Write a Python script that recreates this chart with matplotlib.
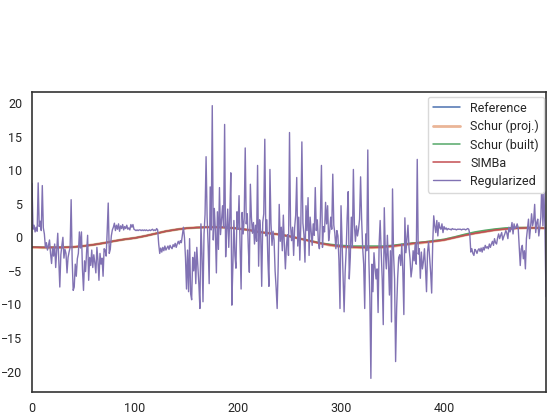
import numpy as np
import matplotlib
matplotlib.use("Agg")
import matplotlib.pyplot as plt
import seaborn as sns

sns.set_style("white")
plt.rcParams['font.family'] = ['Roboto', 'DejaVu Sans']

# smooth curves, sampled every 10 steps (last point at 499)
smooth_x = list(range(0, 500, 10)) + [499]
reference = [-1.45, -1.5, -1.5, -1.5, -1.45, -1.3, -1.1, -0.85, -0.55, -0.3,
             -0.1, 0.2, 0.55, 0.9, 1.15, 1.35, 1.45, 1.5, 1.5, 1.45,
             1.3, 1.1, 0.8, 0.6, 0.42, 0.15, -0.2, -0.55, -0.9, -1.15,
             -1.35, -1.45, -1.5, -1.5, -1.45, -1.3, -1.1, -0.9, -0.75, -0.6,
             -0.4, -0.05, 0.3, 0.6, 0.85, 1.1, 1.25, 1.35, 1.4, 1.4, 1.35]
schur_proj = [-1.5, -1.55, -1.55, -1.5, -1.45, -1.3, -1.1, -0.85, -0.55, -0.3,
              -0.1, 0.2, 0.55, 0.9, 1.15, 1.35, 1.45, 1.5, 1.5, 1.45,
              1.3, 1.1, 0.8, 0.6, 0.42, 0.15, -0.2, -0.55, -0.9, -1.2,
              -1.4, -1.5, -1.55, -1.55, -1.5, -1.35, -1.15, -0.95, -0.8, -0.6,
              -0.4, -0.05, 0.3, 0.6, 0.85, 1.1, 1.25, 1.35, 1.4, 1.4, 1.35]
schur_built = [-1.45, -1.5, -1.5, -1.5, -1.45, -1.3, -1.1, -0.85, -0.55, -0.3,
               -0.1, 0.2, 0.55, 0.9, 1.15, 1.35, 1.45, 1.5, 1.5, 1.45,
               1.3, 1.1, 0.8, 0.6, 0.42, 0.15, -0.2, -0.5, -0.85, -1.05,
               -1.2, -1.3, -1.3, -1.3, -1.3, -1.2, -1.0, -0.85, -0.7, -0.5,
               -0.3, 0.05, 0.45, 0.8, 1.05, 1.25, 1.4, 1.45, 1.45, 1.4, 1.35]
simba = [-1.45, -1.5, -1.5, -1.5, -1.45, -1.3, -1.1, -0.85, -0.55, -0.3,
         -0.1, 0.2, 0.55, 0.9, 1.15, 1.35, 1.45, 1.5, 1.5, 1.45,
         1.3, 1.1, 0.8, 0.6, 0.42, 0.15, -0.2, -0.55, -0.9, -1.15,
         -1.35, -1.45, -1.5, -1.5, -1.45, -1.3, -1.1, -0.9, -0.75, -0.6,
         -0.4, -0.05, 0.3, 0.6, 0.85, 1.1, 1.25, 1.35, 1.4, 1.4, 1.35]

# regularized estimate, one value per step 0..499
regularized = [
    8.0, 1.2, 1.8, 0.8, 1.5, 0.9, 8.1, 1.6, 2.4, 1.0,
    7.7, 1.4, 0.5, -1.5, -0.8, -1.9, -1.2, -0.4, -2.4, -3.9,
    -1.6, -2.8, -1.0, -4.5, -2.0, 0.6, -3.5, -7.4, -2.6, -1.2,
    0.0, -3.1, -1.8, -2.4, -5.3, -3.0, -2.2, -1.5, 5.6, -3.4,
    -7.9, -7.4, -4.0, -5.8, -3.2, -2.4, 0.8, -1.6, 0.8, -4.8,
    -7.9, -3.5, -5.1, -2.2, 0.3, -6.4, -3.0, -4.2, -1.9, -4.5,
    -2.6, -3.8, -5.3, -1.5, -3.4, -6.4, -2.4, -4.0, -3.1, -5.8,
    -1.7, -1.9, -2.8, 0.9, 5.1, -2.4, -1.8, 0.2, 1.1, 1.5,
    2.1, 1.0, 1.8, 1.2, 2.0, 0.9, 1.7, 1.3, 1.9, 1.1,
    1.6, 1.3, 1.8, 1.2, 1.4, 1.1, 1.9, 1.5, 1.9, 1.2,
    1.1, 1.0, 1.1, 1.0, 1.1, 1.1, 1.0, 1.1, 1.0, 1.1,
    1.0, 1.1, 1.0, 1.0, 1.1, 1.0, 1.1, 1.2, 1.0, 1.1,
    1.0, 1.3, 1.1, -1.0, -2.4, -1.6, -2.2, -1.5, -2.0, -1.3,
    -1.9, -1.6, -1.3, -1.8, -1.2, -1.5, -1.7, -1.1, -1.4, -0.9,
    -1.5, -1.0, -0.6, -1.0, -0.5, -0.8, 0.3, 1.5, 0.0, -3.0,
    -7.7, -1.9, -8.1, -0.2, -8.4, -9.3, -3.0, -5.0, -2.2, -6.9,
    -1.5, -4.4, -7.0, -10.6, 2.0, -2.4, -9.6, 0.5, 3.4, 12.0,
    3.0, -1.2, -6.9, 7.5, 1.1, 19.6, -0.4, 4.3, 1.0, -5.3,
    3.8, -1.8, 7.4, 0.4, 2.6, 4.7, 1.5, 16.8, -2.9, 1.0,
    4.2, -1.5, 3.0, 9.6, -10.1, -4.3, 2.5, -2.7, -4.6, 3.8,
    1.2, 6.2, -1.2, -7.7, 3.7, 0.5, 2.8, 13.3, 2.0, 3.5,
    -1.5, -5.2, 7.9, 3.0, 0.6, 2.2, -1.0, 1.8, -0.6, 10.7,
    -4.3, 2.6, 0.8, -7.3, 2.2, 3.5, 14.6, 0.2, 2.6, -3.4,
    -7.3, 10.1, 2.1, -1.2, 0.9, -0.4, -5.0, -7.5, -10.6, -4.2,
    4.9, -0.6, 1.5, -2.0, 3.3, -1.2, -4.7, -1.2, 0.4, -2.7,
    15.6, 1.8, -0.5, 1.5, -2.7, 1.5, 3.3, 8.9, -1.3, 3.0,
    -3.4, 2.1, 14.2, 2.1, 0.4, -3.7, 4.7, 1.0, 5.9, -2.7,
    3.0, 0.8, -1.2, 2.0, 0.3, 7.4, 1.0, 2.6, -0.6, -1.7,
    3.2, 10.7, -1.5, 1.6, 0.8, 5.2, 2.0, 4.7, -0.5, 0.8,
    3.0, 1.2, 9.4, 1.8, 0.6, -1.7, 1.0, 0.2, -3.5, -10.6,
    4.7, -0.5, -6.0, -11.1, -5.2, -2.0, 3.0, 6.8, -6.2, -3.0,
    3.0, -1.5, 10.1, 1.8, -0.6, 1.7, 0.2, 1.2, 2.7, 9.0,
    2.7, -1.5, -4.0, -10.6, 0.5, -2.0, 13.0, -3.2, -9.0, -21.0,
    -4.0, -8.1, -2.3, -4.5, -6.2, -4.7, -11.2, -1.0, 2.5, -2.2,
    -6.2, -13.0, 4.4, -2.3, -4.7, 0.3, -3.5, -8.6, -2.0, -12.6,
    7.2, -2.5, -6.2, -18.5, -10.6, -6.0, -3.0, -2.6, -4.2, -1.0,
    -5.0, -11.5, 2.9, -2.3, -0.2, 1.8, -1.5, -3.2, -5.9, -4.6,
    -2.0, -3.5, -1.0, -4.0, 11.6, -2.5, -1.7, -6.1, -2.2, -4.7,
    -3.6, -1.7, -4.5, -8.1, -2.2, -0.7, -3.0, -5.2, -8.3, -1.0,
    3.2, 1.7, 0.7, 2.5, 0.2, 2.2, 1.4, 1.2, 2.0, 0.7,
    1.6, 1.2, 1.4, 1.1, 1.3, 1.2, 1.2, 1.1, 1.3, 1.2,
    1.2, 1.2, 1.1, 1.2, 1.2, 1.2, 1.2, 1.1, 1.2, 1.2,
    1.2, 1.1, 1.2, 1.3, 1.2, 0.5, -2.2, -1.7, -2.4, -2.7,
    -1.8, -2.0, -2.4, -1.9, -1.7, -2.1, -1.6, -2.2, -1.5, -1.9,
    -1.2, -1.6, -1.4, -1.7, -1.0, -1.5, -1.0, -0.6, -1.2, -0.2,
    -0.8, -1.0, -0.1, 0.5, -0.2, 0.3, 0.7, -0.4, 0.1, 0.5,
    1.0, 0.6, -0.2, 1.5, 0.8, 1.2, 2.2, 0.5, 2.0, 1.3,
    1.5, 2.0, 1.4, -1.5, -4.2, -1.7, -1.2, -3.2, -2.0, -4.7,
    -0.2, 1.2, 2.7, -0.2, 1.5, 3.5, 1.7, 2.5, 4.9, 0.7,
    2.2, 2.7, 0.2, 1.5, 3.0, 8.6, 1.7, 6.7, 1.2, -8.8,
]
reg_x = np.arange(len(regularized))

deep = sns.color_palette("deep")

fig = plt.figure(figsize=(5.54, 4.15), dpi=100)
ax = fig.add_axes([32 / 554, 23 / 415, 514 / 554, 300 / 415])

ax.plot(smooth_x, reference, color=deep[0], lw=1.1, label="Reference")
ax.plot(smooth_x, schur_proj, color=deep[1], lw=2, alpha=0.6, label="Schur (proj.)")
ax.plot(smooth_x, schur_built, color=deep[2], lw=1.1, label="Schur (built)")
ax.plot(smooth_x, simba, color=deep[3], lw=1.1, label="SIMBa")
ax.plot(reg_x, regularized, color=deep[4], lw=1.0, label="Regularized")

ax.set_xlim(0, 499)
ax.tick_params(labelsize=9, colors=".15")
for s in ax.spines.values():
    s.set_color(".2")
    s.set_linewidth(1.2)

ax.legend(loc="upper right", bbox_to_anchor=(1.0, 0.99), borderaxespad=0.15,
          fontsize=9, frameon=True, framealpha=1, edgecolor=".85",
          handlelength=2.2, labelspacing=0.4)

fig.savefig("out.png", dpi=100)
